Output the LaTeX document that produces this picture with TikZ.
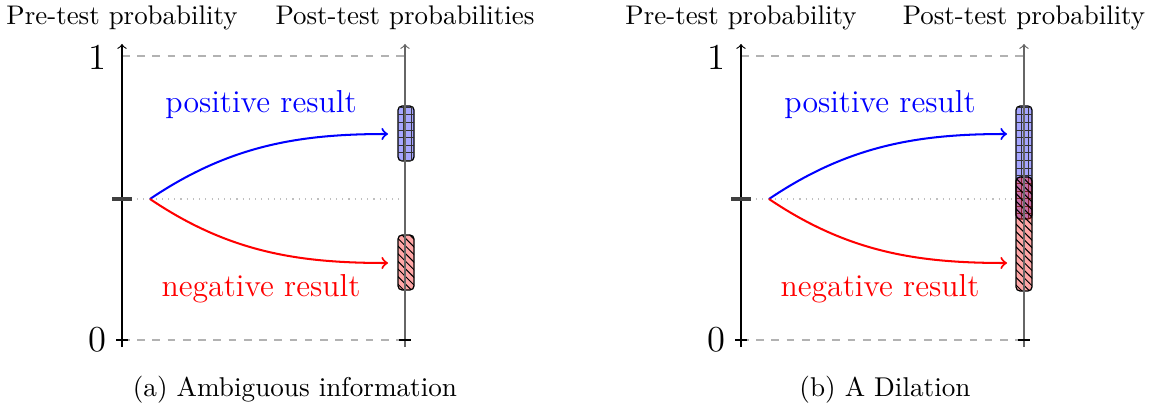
\documentclass[tikz,border=0pt]{standalone}
\usetikzlibrary{patterns}
\tikzset{
  axisline/.style={->, line width=0.45pt},
  levelline/.style={dashed, gray!60, line width=0.45pt},
  zerotick/.style={line width=0.45pt},
  pretick/.style={black!75, line width=1.2pt},
  preline/.style={dotted, gray!50, line width=0.45pt},
  updateup/.style={->, blue, line width=0.8pt},
  updatedown/.style={->, red, line width=0.8pt},
  posbox/.style={draw=black, line width=0.5pt, rounded corners=1.6pt,
                 fill=blue!35, postaction={pattern=grid, pattern color=black!80}},
  negbox/.style={draw=black, line width=0.5pt, rounded corners=1.6pt,
                 fill=red, fill opacity=0.35, draw opacity=1,
                 postaction={pattern=north west lines, pattern color=black, fill opacity=1}},
  axistitle/.style={font=\fontsize{10.6}{13}\selectfont},
  levellabel/.style={font=\Large},
  poslabel/.style={font=\fontsize{12.5}{15}\selectfont, text=blue},
  neglabel/.style={font=\fontsize{12.5}{15}\selectfont, text=red},
  caption/.style={font=\fontsize{10.7}{13}\selectfont}
}

\begin{document}
\begin{tikzpicture}[x=0.3937pt, y=-0.3937pt]
  \useasboundingbox (0,0) rectangle (1153,412);

  % (a) ambiguous information
  \coordinate (aPreBot)  at (122,347);
  \coordinate (aPreTop)  at (122,44);
  \coordinate (aPostBot) at (405,347);
  \coordinate (aPostTop) at (405,44);
  \coordinate (aOneL) at (122,56);   \coordinate (aOneR) at (405,56);
  \coordinate (aZeroL) at (122,340); \coordinate (aZeroR) at (405,340);
  \coordinate (aMidL) at (112,199);  \coordinate (aMidR) at (405,199);
  \coordinate (aTickL) at (132,199);
  \coordinate (aStart) at (150,199);
  \coordinate (aPos) at (388,134);
  \coordinate (aNeg) at (388,263);

  \draw[levelline] (aOneL) -- (aOneR);
  \draw[levelline] (aZeroL) -- (aZeroR);
  \draw[preline] (aMidL) -- (aMidR);
  \draw[posbox] (398,106) rectangle (414,161);
  \draw[negbox] (398,235) rectangle (414,290);
  \draw[axisline] (aPreBot) -- (aPreTop);
  \draw[axisline, black!60] (aPostBot) -- (aPostTop);
  \draw[zerotick] (116,340) -- (128,340);
  \draw[zerotick] (399,340) -- (411,340);
  \draw[pretick] (aMidL) -- (aTickL);
  \draw[updateup] (aStart) .. controls (230,145) and (300,134) .. (aPos);
  \draw[updatedown] (aStart) .. controls (230,253) and (300,263) .. (aNeg);

  \node[axistitle] (aPreTitle)  at (122,18) {Pre-test probability};
  \node[axistitle] (aPostTitle) at (405,18) {Post-test probabilities};
  \node[levellabel] (aOne)  at (97,57)  {1};
  \node[levellabel] (aZero) at (97,340) {0};
  \node[poslabel] (aPosLabel) at (261,105) {positive result};
  \node[neglabel] (aNegLabel) at (261,289) {negative result};
  \node[caption] (aCaption) at (295,390) {(a) Ambiguous information};

  % (b) a dilation
  \coordinate (bPreBot)  at (741,347);
  \coordinate (bPreTop)  at (741,44);
  \coordinate (bPostBot) at (1024,347);
  \coordinate (bPostTop) at (1024,44);
  \coordinate (bOneL) at (741,56);   \coordinate (bOneR) at (1024,56);
  \coordinate (bZeroL) at (741,340); \coordinate (bZeroR) at (1024,340);
  \coordinate (bMidL) at (731,199);  \coordinate (bMidR) at (1024,199);
  \coordinate (bTickL) at (751,199);
  \coordinate (bStart) at (769,199);
  \coordinate (bPos) at (1007,134);
  \coordinate (bNeg) at (1007,263);

  \draw[levelline] (bOneL) -- (bOneR);
  \draw[levelline] (bZeroL) -- (bZeroR);
  \draw[preline] (bMidL) -- (bMidR);
  \draw[posbox] (1016,106) rectangle (1032,219);
  \draw[negbox] (1016,177) rectangle (1032,291);
  \draw[axisline] (bPreBot) -- (bPreTop);
  \draw[axisline, black!60] (bPostBot) -- (bPostTop);
  \draw[zerotick] (735,340) -- (747,340);
  \draw[zerotick] (1018,340) -- (1030,340);
  \draw[pretick] (bMidL) -- (bTickL);
  \draw[updateup] (bStart) .. controls (849,145) and (919,134) .. (bPos);
  \draw[updatedown] (bStart) .. controls (849,253) and (919,263) .. (bNeg);

  \node[axistitle] (bPreTitle)  at (741,18)  {Pre-test probability};
  \node[axistitle] (bPostTitle) at (1024,18) {Post-test probability};
  \node[levellabel] (bOne)  at (716,57)  {1};
  \node[levellabel] (bZero) at (716,340) {0};
  \node[poslabel] (bPosLabel) at (880,105) {positive result};
  \node[neglabel] (bNegLabel) at (880,289) {negative result};
  \node[caption] (bCaption) at (885,390) {(b) A Dilation};
\end{tikzpicture}
\end{document}
